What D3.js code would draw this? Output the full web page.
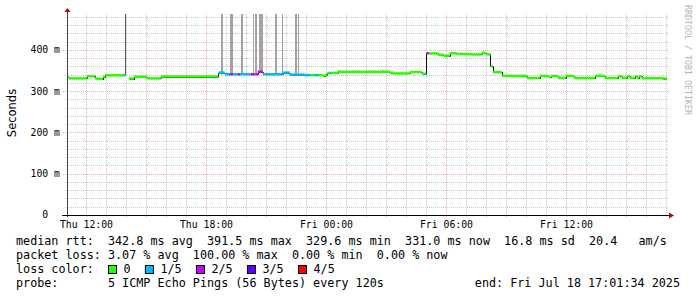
<!DOCTYPE html>
<html>
<head>
<meta charset="utf-8">
<script src="https://cdn.jsdelivr.net/npm/d3@7"></script>
<style>
  html, body { margin: 0; padding: 0; background: #fff; }
  svg { display: block; }
  text { white-space: pre; }
</style>
</head>
<body>
<div id="chart"></div>
<script>
// time window of the graph
const startTime = "2025-07-17 11:01:34";
const endTime = "2025-07-18 17:01:34";

// median rtt (ms), step values, each holds until the next time
const medianTimes = [
  "07-17 11:02", "07-17 11:07", "07-17 12:01", "07-17 12:25", "07-17 12:31", "07-17 12:49",
  "07-17 12:55", "07-17 13:52", "07-17 13:56", "07-17 14:07", "07-17 14:22", "07-17 15:01",
  "07-17 15:43", "07-17 18:36", "07-17 18:55", "07-17 19:10", "07-17 19:19", "07-17 19:34",
  "07-17 19:40", "07-17 20:10", "07-17 20:13", "07-17 20:25", "07-17 20:28", "07-17 20:34",
  "07-17 20:49", "07-17 20:52", "07-17 20:55", "07-17 21:49", "07-17 22:10", "07-17 22:55",
  "07-17 23:13", "07-17 23:25", "07-17 23:37", "07-17 23:49", "07-17 23:55", "07-18 00:03",
  "07-18 00:07", "07-18 00:13", "07-18 00:34", "07-18 03:10", "07-18 03:19", "07-18 04:10",
  "07-18 04:46", "07-18 04:55", "07-18 05:00", "07-18 05:07", "07-18 05:34", "07-18 05:52",
  "07-18 06:10", "07-18 06:31", "07-18 07:16", "07-18 07:46", "07-18 07:58", "07-18 08:12",
  "07-18 08:19", "07-18 08:46", "07-18 10:01", "07-18 10:40", "07-18 11:07", "07-18 11:13",
  "07-18 11:34", "07-18 11:58", "07-18 12:22", "07-18 13:25", "07-18 13:55", "07-18 14:34",
  "07-18 14:46", "07-18 15:01", "07-18 15:10", "07-18 15:25", "07-18 15:31", "07-18 15:37",
  "07-18 15:46", "07-18 16:49"
];
const medianValues = [
  335, 331, 336, 331, 330, 335,
  338.5, 338.5, null, 330.5, 335, 331,
  335.5, 345, 341, 341, 341, 341,
  341, 341, 341, 341, 341, 347,
  341, 341, 341, 345, 340, 339,
  339, 339, 339, 337, 339, 344,
  344, 344, 347, 345, 343, 346.5,
  342, 342, 392, 391.5, 388, 386,
  392, 390, 389, 393, 389, 360,
  346, 337, 332, 337, 334, 337,
  332, 337, 332, 337, 332, 336,
  332, 336, 332, 336, 332, 336,
  331.5, 330.5
];
// lost pings out of 5 for each step (5 = all lost)
const medianLoss = [
  0, 0, 0, 0, 0, 0,
  0, 1, 5, 0, 0, 0,
  0, 1, 1, 2, 1, 2,
  1, 0, 2, 1, 2, 2,
  1, 0, 1, 1, 1, 1,
  0, 1, 0, 0, 0, 0,
  1, 0, 0, 0, 0, 0,
  0, 1, 2, 0, 0, 0,
  0, 0, 0, 0, 0, 0,
  0, 0, 0, 0, 0, 0,
  0, 0, 0, 0, 0, 0,
  0, 0, 0, 0, 0, 0,
  0, 0
];

// smoke (ping spread) bars: start, end, lowest and highest rtt (ms)
const smokeStart = ["07-17 18:43", "07-17 19:10", "07-17 19:43", "07-17 20:19", "07-17 20:25", "07-17 20:37",
                    "07-17 21:25", "07-17 21:46", "07-17 22:25", "07-17 22:34", "07-18 00:34", "07-18 02:46"];
const smokeEnd   = ["07-17 18:49", "07-17 19:19", "07-17 19:49", "07-17 20:22", "07-17 20:31", "07-17 20:49",
                    "07-17 21:31", "07-17 21:49", "07-17 22:31", "07-17 22:37", "07-18 00:36", "07-18 02:48"];
const smokeLow   = [341, 341, 341, 341, 341, 347, 341, 341, 340, 340, 347, 347];
const smokeHigh  = [600, 600, 600, 600, 600, 600, 600, 600, 600, 600, 351, 353];

const lossLabels = ["0", "1/5", "2/5", "3/5", "4/5"];
const lossColors = ["#26ff00", "#00b8ff", "#c800ff", "#5e00ff", "#ff0000"];

const yTickValues = [0, 100, 200, 300, 400];
const yTickLabels = ["0  ", "100 m", "200 m", "300 m", "400 m"];
const xTickTimes = ["07-17 12:00", "07-17 18:00", "07-18 00:00", "07-18 06:00", "07-18 12:00"];
const xTickLabels = ["Thu 12:00", "Thu 18:00", "Fri 00:00", "Fri 06:00", "Fri 12:00"];

const legendLines = [
  "median rtt:  342.8 ms avg  391.5 ms max  329.6 ms min  331.0 ms now  16.8 ms sd  20.4   am/s",
  "packet loss: 3.07 % avg  100.00 % max  0.00 % min  0.00 % now",
  "loss color:",
  "probe:       5 ICMP Echo Pings (56 Bytes) every 120s"
];
const endLabel = "end: Fri Jul 18 17:01:34 2025";

const W = 697, H = 297;
const MONO = "'DejaVu Sans Mono', monospace";
const parseFull = d3.timeParse("%Y-%m-%d %H:%M:%S");
const parse = s => d3.timeParse("%Y-%m-%d %H:%M")("2025-" + s);
const t0 = parseFull(startTime), t1 = parseFull(endTime);

const x = d3.scaleTime().domain([t0, t1]).range([67, 667]);
const y = d3.scaleLinear().domain([0, 487]).range([215, 14]);
const [xLeft, xRight] = x.range();
const [yBottom, yTop] = y.range();

const svg = d3.select("#chart").append("svg")
  .attr("width", W).attr("height", H);

svg.append("rect").attr("width", W).attr("height", H).attr("fill", "#fff");

svg.append("clipPath").attr("id", "plot")
  .append("rect").attr("x", xLeft).attr("y", yTop).attr("width", xRight - xLeft).attr("height", yBottom - yTop);

// grid
const grid = svg.append("g").attr("shape-rendering", "crispEdges").attr("stroke-dasharray", "1,1");
const minorY = d3.range(20, y.domain()[1], 20).filter(v => v % 100 !== 0);
grid.selectAll(".hmin").data(minorY).join("line")
  .attr("x1", xLeft - 2).attr("x2", xRight + 1)
  .attr("y1", d => Math.round(y(d)) + 0.5).attr("y2", d => Math.round(y(d)) + 0.5)
  .attr("stroke", "#cacaca");
const hours = x.ticks(d3.timeHour.every(1));
grid.selectAll(".vmin").data(hours.filter(d => d.getHours() % 3 !== 0)).join("line")
  .attr("x1", d => Math.round(x(d)) + 0.5).attr("x2", d => Math.round(x(d)) + 0.5)
  .attr("y1", yTop).attr("y2", yBottom + 2)
  .attr("stroke", "#cacaca");
grid.selectAll(".hmaj").data(yTickValues.slice(1)).join("line")
  .attr("x1", xLeft - 4).attr("x2", xRight + 1)
  .attr("y1", d => Math.round(y(d)) + 0.5).attr("y2", d => Math.round(y(d)) + 0.5)
  .attr("stroke", "#ebb0b0");
grid.selectAll(".vmaj").data(hours.filter(d => d.getHours() % 3 === 0)).join("line")
  .attr("x1", d => Math.round(x(d)) + 0.5).attr("x2", d => Math.round(x(d)) + 0.5)
  .attr("y1", yTop).attr("y2", yBottom + 3)
  .attr("stroke", "#ebb0b0");

// data
const med = medianTimes.map((t, i) => ({ t: parse(t), v: medianValues[i], loss: medianLoss[i] }));
med.forEach((d, i) => { d.t1 = i < med.length - 1 ? med[i + 1].t : t1; });

const plot = svg.append("g").attr("clip-path", "url(#plot)");

const smoke = smokeStart.map((s, i) => ({ s: parse(s), e: parse(smokeEnd[i]), lo: smokeLow[i], hi: smokeHigh[i] }));
plot.selectAll(".smoke").data(smoke).join("rect")
  .attr("x", d => Math.round(x(d.s)))
  .attr("width", d => Math.max(1, Math.round(x(d.e)) - Math.round(x(d.s))))
  .attr("y", d => y(d.hi))
  .attr("height", d => y(d.lo) - y(d.hi))
  .attr("fill", "#a3a3a3");

// full loss: dark line to the top
med.forEach((d, i) => {
  if (d.loss === 5 && i > 0) {
    const px = Math.round(x(d.t)) + 0.5;
    plot.append("line")
      .attr("x1", px).attr("x2", px)
      .attr("y1", y(med[i - 1].v)).attr("y2", yTop)
      .attr("stroke", "#555").attr("stroke-width", 1);
  }
});

const pts = med.concat([{ t: t1, v: med[med.length - 1].v }]);
plot.append("path")
  .datum(pts)
  .attr("d", d3.line().defined(d => d.v != null).curve(d3.curveStepAfter)
    .x(d => Math.round(x(d.t)) + 0.5).y(d => Math.round(y(d.v)) + 0.5))
  .attr("fill", "none").attr("stroke", "#111").attr("stroke-width", 1);

plot.selectAll(".med").data(med.filter(d => d.v != null && d.loss < 5)).join("line")
  .attr("x1", d => x(d.t)).attr("x2", d => x(d.t1))
  .attr("y1", d => y(d.v)).attr("y2", d => y(d.v))
  .attr("stroke", d => lossColors[d.loss]).attr("stroke-width", 2.5);

// axes
const axes = svg.append("g").attr("shape-rendering", "crispEdges");
axes.append("line").attr("x1", xLeft + 0.5).attr("x2", xLeft + 0.5).attr("y1", yBottom + 2).attr("y2", yTop - 3)
  .attr("stroke", "#444");
axes.append("line").attr("x1", xLeft - 5).attr("x2", xRight + 3).attr("y1", yBottom + 0.5).attr("y2", yBottom + 0.5)
  .attr("stroke", "#000");
svg.append("path").attr("d", `M${xLeft - 2.5},${yTop - 2} L${xLeft + 3.5},${yTop - 2} L${xLeft + 0.5},${yTop - 6} Z`).attr("fill", "#a01010");
svg.append("path").attr("d", `M${xRight + 2},${yBottom - 2.5} L${xRight + 2},${yBottom + 3.5} L${xRight + 7},${yBottom + 0.5} Z`).attr("fill", "#a01010");

svg.append("g").selectAll("text").data(yTickValues).join("text")
  .attr("x", 60).attr("y", d => y(d)).attr("dy", "0.35em")
  .attr("text-anchor", "end")
  .attr("font-family", MONO).attr("font-size", "9.8px").attr("fill", "#000")
  .text((d, i) => yTickLabels[i]);

svg.append("g").selectAll("text").data(xTickTimes).join("text")
  .attr("x", d => x(parse(d))).attr("y", 227.5)
  .attr("text-anchor", "middle")
  .attr("font-family", MONO).attr("font-size", "9.8px").attr("fill", "#000")
  .text((d, i) => xTickLabels[i]);

svg.append("text")
  .attr("transform", "translate(15.5,113) rotate(-90)")
  .attr("text-anchor", "middle")
  .attr("font-family", "'DejaVu Sans', sans-serif").attr("font-size", "11.5px").attr("fill", "#000")
  .text("Seconds");

svg.append("text")
  .attr("transform", "translate(685,5) rotate(90)")
  .attr("font-family", MONO).attr("font-size", "8.3px").attr("fill", "#b4b4b4")
  .text("RRDTOOL / TOBI OETIKER");

// legend
const cw = 7.08;
const legend = svg.append("g").attr("font-family", MONO).attr("font-size", "11.75px").attr("fill", "#000");
legend.selectAll("text.line").data(legendLines).join("text")
  .attr("x", 16).attr("y", (d, i) => 244.5 + i * 14)
  .text(d => d);
legend.append("text").attr("x", 680).attr("y", 244.5 + 3 * 14).attr("text-anchor", "end").text(endLabel);

let bx = 108;
lossLabels.forEach((lab, i) => {
  legend.append("rect")
    .attr("x", bx + 0.5).attr("y", 265.5).attr("width", 8).attr("height", 8)
    .attr("fill", lossColors[i]).attr("stroke", "#000").attr("stroke-width", 1);
  legend.append("text").attr("x", bx + 15.5).attr("y", 244.5 + 2 * 14).text(lab);
  bx += 15.5 + lab.length * cw + 14.3;
});
</script>
</body>
</html>
